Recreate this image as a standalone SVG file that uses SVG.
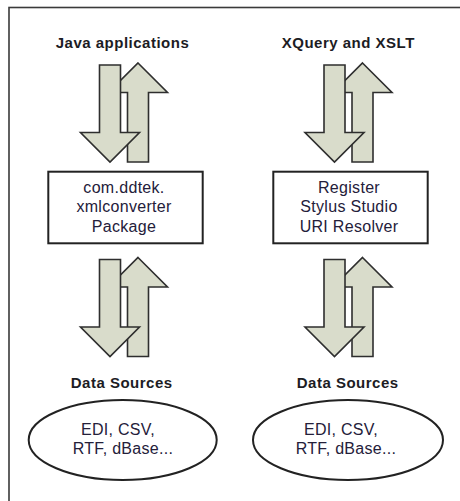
<svg xmlns="http://www.w3.org/2000/svg" width="460" height="501" viewBox="0 0 460 501">
<style>
.frame{fill:none;stroke:#3a3a3a;stroke-width:1.6}
.arrow{fill:#d9dccb;stroke:#2e2e2e;stroke-width:1.6;stroke-linejoin:miter}
.box{fill:#fff;stroke:#222;stroke-width:2}
.title{font-family:"Liberation Sans",Arial,sans-serif;font-size:15px;font-weight:bold;fill:#1c1c24;text-anchor:middle;letter-spacing:0.5px}
.lbl{font-family:"Liberation Sans",Arial,sans-serif;font-size:16px;fill:#24203a;text-anchor:middle;letter-spacing:0.3px}
</style>
<defs>
<g id="pair">
<path class="arrow" d="M138,63 L167.5,92.5 H148.5 V162 H127.5 V92.5 H108.5 Z"/>
<path class="arrow" d="M99.5,65 H120.5 V132.5 H139.5 L110,162 L80.5,132.5 H99.5 Z"/>
</g>
</defs>
<rect class="frame" x="9" y="7.5" width="500" height="600"/>
<g id="connectors">
<use href="#pair"/>
<use href="#pair" transform="translate(224.5,0)"/>
<use href="#pair" transform="translate(0,194.5)"/>
<use href="#pair" transform="translate(224.5,194.5)"/>
</g>
<g id="java-title"><text class="title" x="122.5" y="48.3">Java applications</text></g>
<g id="xquery-title"><text class="title" x="348.3" y="48.3">XQuery and XSLT</text></g>
<g id="package-box">
<rect class="box" x="48.3" y="171.7" width="154.4" height="71.6"/>
<text class="lbl" x="124" y="193">com.ddtek.</text>
<text class="lbl" x="124" y="212.3">xmlconverter</text>
<text class="lbl" x="124" y="231.5">Package</text>
</g>
<g id="resolver-box">
<rect class="box" x="273.3" y="171.7" width="154.4" height="71.6"/>
<text class="lbl" x="349" y="192.5">Register</text>
<text class="lbl" x="349" y="212">Stylus Studio</text>
<text class="lbl" x="349" y="231.5">URI Resolver</text>
</g>
<g id="ds-title-left"><text class="title" x="121.7" y="387.5">Data Sources</text></g>
<g id="ds-title-right"><text class="title" x="347.7" y="387.5">Data Sources</text></g>
<g id="ds-left">
<ellipse class="box" cx="122.7" cy="440" rx="94" ry="40"/>
<text class="lbl" x="118" y="434.5">EDI, CSV,</text>
<text class="lbl" x="123" y="453.5">RTF, dBase...</text>
</g>
<g id="ds-right">
<ellipse class="box" cx="348" cy="440" rx="95" ry="40"/>
<text class="lbl" x="341" y="434.5">EDI, CSV,</text>
<text class="lbl" x="346" y="453.5">RTF, dBase...</text>
</g>
</svg>
